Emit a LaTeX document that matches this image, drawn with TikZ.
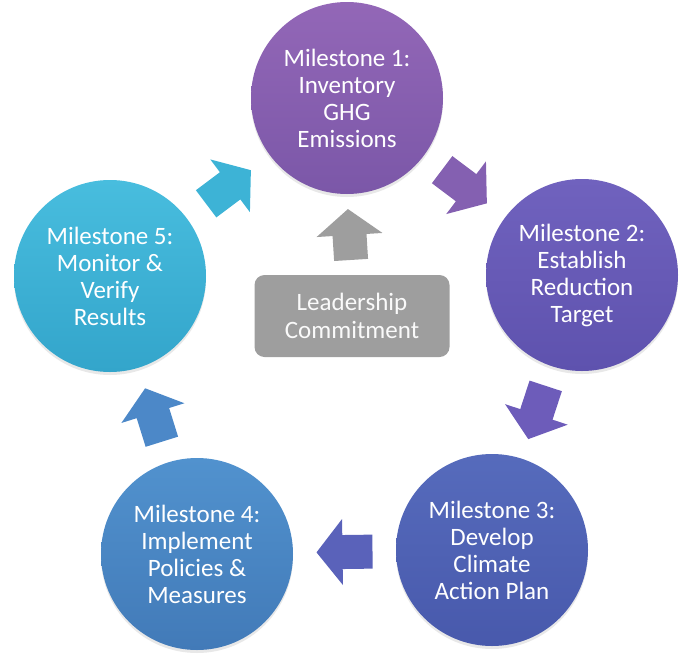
\documentclass[tikz,border=0pt]{standalone}
\usepackage{fontspec}
\setmainfont{Carlito}
\usetikzlibrary{calc,shadows}
\definecolor{mA}{HTML}{9367B7}\definecolor{mAd}{HTML}{7B57A8}
\definecolor{mB}{HTML}{7062BE}\definecolor{mBd}{HTML}{5E52AE}
\definecolor{mC}{HTML}{566BBC}\definecolor{mCd}{HTML}{4859AC}
\definecolor{mD}{HTML}{5192CE}\definecolor{mDd}{HTML}{427AB8}
\definecolor{mE}{HTML}{48BDDE}\definecolor{mEd}{HTML}{33A5CB}
\definecolor{aA}{HTML}{8460B1}
\definecolor{aB}{HTML}{6D5CBA}
\definecolor{aC}{HTML}{5A62BA}
\definecolor{aD}{HTML}{4C88C8}
\definecolor{aE}{HTML}{3DB3D6}
\definecolor{grayA}{HTML}{9E9E9E}
\newcommand\myarrow[4]{%
  \coordinate (am) at ($(#1)!0.5!(#2)$);
  \coordinate (at) at ($(am)!#4!(#2)$);
  \coordinate (ab) at ($(am)!-#4!(#2)$);
  \coordinate (ah) at ($(at)!26pt!(am)$);
  \fill[#3] ($(ab)!17pt!90:(#2)$) -- ($(ah)!17pt!90:(at)$) -- ($(ah)!33pt!90:(at)$) -- (at)
    -- ($(ah)!33pt!-90:(at)$) -- ($(ah)!17pt!-90:(at)$) -- ($(ab)!17pt!-90:(#2)$) -- cycle;
}
\begin{document}
\begin{tikzpicture}[x=1pt,y=-1pt,
  milestone/.style={circle, minimum size=192pt, inner sep=0pt, text=white, align=center,
    font=\fontsize{25}{27}\selectfont,
    drop shadow={opacity=0.18, shadow xshift=0pt, shadow yshift=-3pt}},
  leadbox/.style={rectangle, rounded corners=10pt, fill=grayA, minimum width=195pt,
    minimum height=82pt, text=white!96!gray, align=center, font=\fontsize{25}{28}\selectfont}]
\useasboundingbox (0,0) rectangle (685,659);
\node[milestone, top color=mA, bottom color=mAd] (c1) at (347,98) {Milestone 1:\\Inventory\\GHG\\Emissions};
\node[milestone, top color=mB, bottom color=mBd] (c2) at (582,275) {Milestone 2:\\Establish\\Reduction\\Target};
\node[milestone, top color=mC, bottom color=mCd] (c3) at (492,550) {Milestone 3:\\Develop\\Climate\\Action Plan};
\node[milestone, top color=mD, bottom color=mDd] (c4) at (197,554) {Milestone 4:\\Implement\\Policies \&\\Measures};
\node[milestone, top color=mE, bottom color=mEd] (c5) at (110,276) {Milestone 5:\\Monitor \&\\Verify\\Results};
\node[leadbox] (lc) at (352,316) {Leadership\\Commitment};
\myarrow{c1}{c2}{aA}{28pt}
\myarrow{c2}{c3}{aB}{28pt}
\myarrow{c3}{c4}{aC}{28pt}
\myarrow{c4}{c5}{aD}{28pt}
\myarrow{c5}{c1}{aE}{28pt}
\myarrow{lc.north}{c1.south}{grayA}{25.5pt}
\end{tikzpicture}
\end{document}
